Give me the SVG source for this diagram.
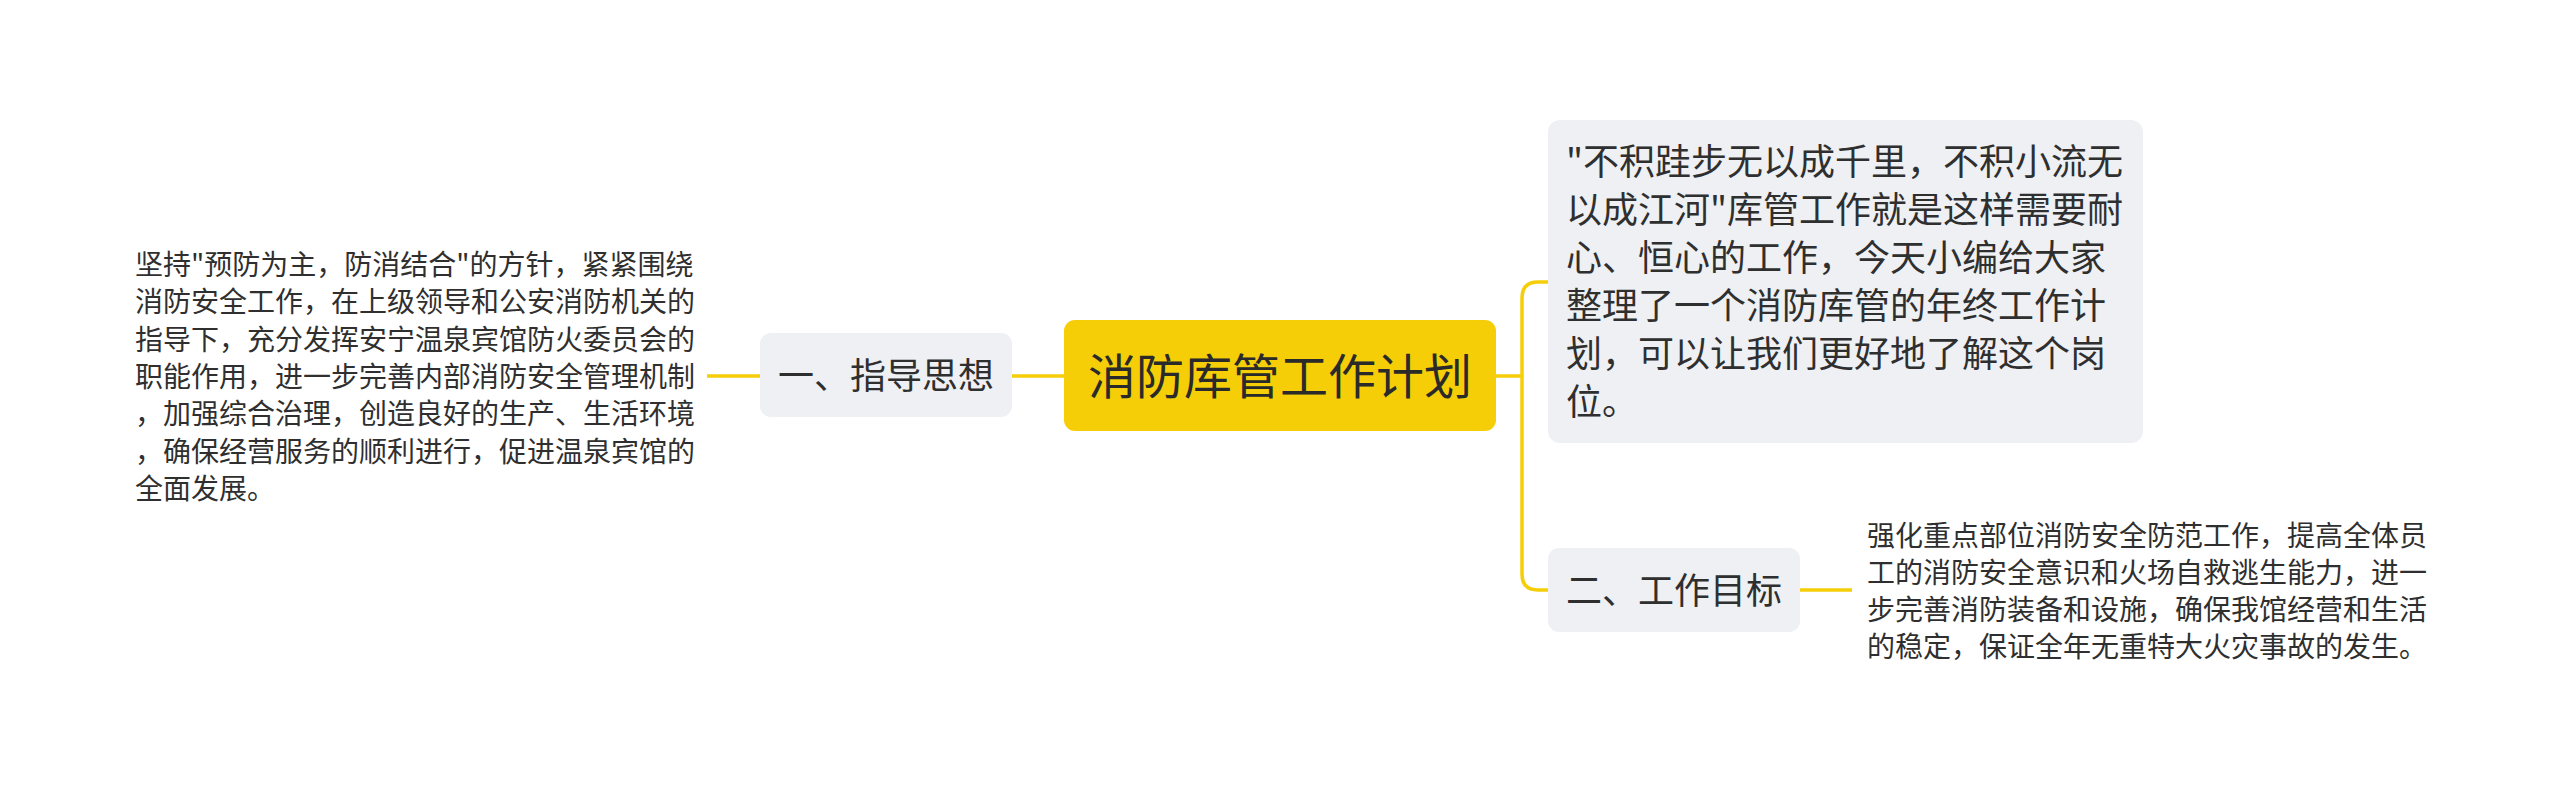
<svg xmlns="http://www.w3.org/2000/svg" width="2560" height="796" viewBox="0 0 2560 796">
<style>
text { font-family: "Noto Sans CJK SC", "Noto Sans", sans-serif; fill: #2f2f2f; }
.sub { fill: #eef0f3; }
.l1 { font-size: 36px; }
.small { font-size: 28px; }
.big { font-size: 36px; }
.title { font-size: 48px; fill: #2a2a2a; }
.conn { fill: none; stroke: #f5ce08; stroke-width: 3.5; stroke-linecap: butt; }
</style>
<rect width="2560" height="796" fill="#ffffff"/>
<g id="connectors">
  <path class="conn" d="M1012 376 L1064 376"/>
  <path class="conn" d="M707 376 L760 376"/>
  <path class="conn" d="M1496 376 L1522 376"/>
  <path class="conn" d="M1548 282 L1538 282 Q1522 282 1522 298 L1522 574 Q1522 590 1538 590 L1548 590"/>
  <path class="conn" d="M1800 590 L1852 590"/>
</g>
<g id="center">
  <rect x="1064" y="320" width="432" height="111" rx="11" fill="#f5ce08"/>
  <text class="title" x="1280" y="394" text-anchor="middle">消防库管工作计划</text>
</g>
<g id="node-guide">
  <rect class="sub" x="760" y="333" width="252" height="84" rx="11"/>
  <text class="l1" x="886" y="389" text-anchor="middle">一、指导思想</text>
</g>
<g id="text-guide">
  <text class="small" x="135">
    <tspan x="135" y="275">坚持"预防为主，防消结合"的方针，紧紧围绕</tspan>
    <tspan x="135" y="312.3">消防安全工作，在上级领导和公安消防机关的</tspan>
    <tspan x="135" y="349.6">指导下，充分发挥安宁温泉宾馆防火委员会的</tspan>
    <tspan x="135" y="386.9">职能作用，进一步完善内部消防安全管理机制</tspan>
    <tspan x="135" y="424.2">，加强综合治理，创造良好的生产、生活环境</tspan>
    <tspan x="135" y="461.5">，确保经营服务的顺利进行，促进温泉宾馆的</tspan>
    <tspan x="135" y="498.8">全面发展。</tspan>
  </text>
</g>
<g id="node-intro">
  <rect class="sub" x="1548" y="120" width="595" height="323" rx="12"/>
  <text class="big" x="1566">
    <tspan x="1566" y="175">"不积跬步无以成千里，不积小流无</tspan>
    <tspan x="1566" y="223">以成江河"库管工作就是这样需要耐</tspan>
    <tspan x="1566" y="271">心、恒心的工作，今天小编给大家</tspan>
    <tspan x="1566" y="319">整理了一个消防库管的年终工作计</tspan>
    <tspan x="1566" y="367">划，可以让我们更好地了解这个岗</tspan>
    <tspan x="1566" y="415">位。</tspan>
  </text>
</g>
<g id="node-goal">
  <rect class="sub" x="1548" y="548" width="252" height="84" rx="11"/>
  <text class="l1" x="1674" y="603.5" text-anchor="middle">二、工作目标</text>
</g>
<g id="text-goal">
  <text class="small" x="1867">
    <tspan x="1867" y="545.5">强化重点部位消防安全防范工作，提高全体员</tspan>
    <tspan x="1867" y="582.8">工的消防安全意识和火场自救逃生能力，进一</tspan>
    <tspan x="1867" y="620.1">步完善消防装备和设施，确保我馆经营和生活</tspan>
    <tspan x="1867" y="657.4">的稳定，保证全年无重特大火灾事故的发生。</tspan>
  </text>
</g>
</svg>
